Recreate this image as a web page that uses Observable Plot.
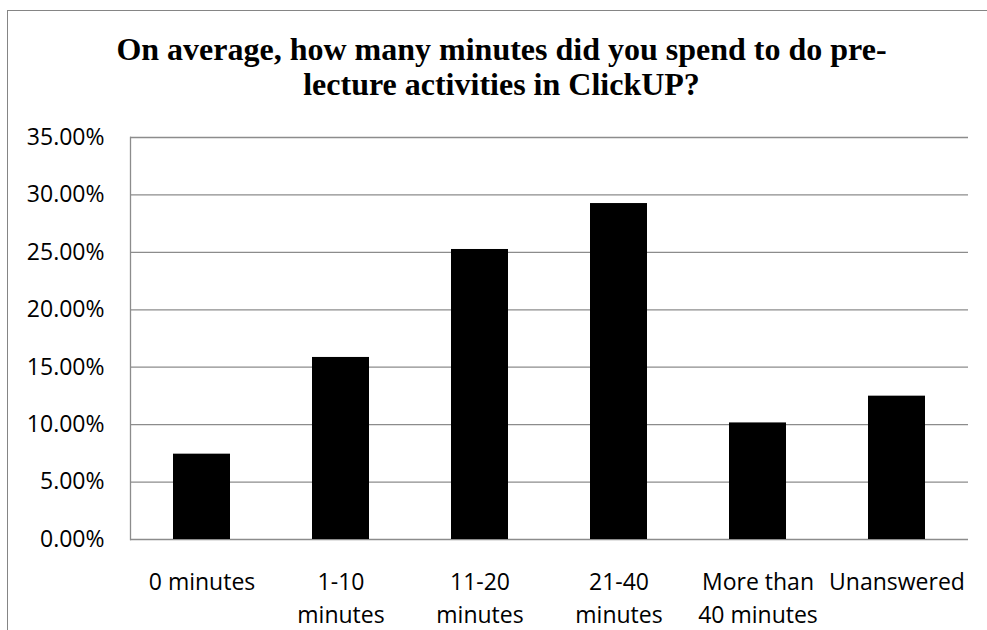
<!DOCTYPE html>
<html>
<head>
<meta charset="utf-8">
<script src="https://cdn.jsdelivr.net/npm/d3@7"></script>
<script src="https://cdn.jsdelivr.net/npm/@observablehq/plot@0.6"></script>
<style>
  html, body { margin: 0; padding: 0; background: #fff; }
  #wrap { position: relative; width: 987px; height: 630px; overflow: hidden; }
  #border { position: absolute; left: 7px; top: 10px; right: -5px; bottom: -5px;
            border-left: 1px solid #858585; border-top: 1px solid #858585; }
  #title { position: absolute; left: 0; top: 32px; width: 1003px; text-align: center;
           font-family: "Liberation Serif", "Times New Roman", serif; font-weight: bold;
           font-size: 32px; line-height: 35.3px; color: #000; }
  #chart { position: absolute; left: 0; top: 0; }
</style>
</head>
<body>
<div id="wrap">
  <div id="border"></div>
  <div id="chart"></div>
  <div id="title">On average, how many minutes did you spend to do pre-<br>lecture activities in ClickUP?</div>
</div>
<script>
const categories = ["0 minutes", "1-10 minutes", "11-20 minutes", "21-40 minutes", "More than 40 minutes", "Unanswered"];
const values = [0.0743, 0.1585, 0.2525, 0.2925, 0.1015, 0.1248];
const tickLabels = ["0 minutes", "1-10\nminutes", "11-20\nminutes", "21-40\nminutes", "More than\n40 minutes", "Unanswered"];
const yTicks = [0, 0.05, 0.10, 0.15, 0.20, 0.25, 0.30, 0.35];

const data = categories.map((c, i) => ({category: c, value: values[i]}));

const chart = Plot.plot({
  width: 987,
  height: 630,
  marginLeft: 130,
  marginRight: 19,
  marginTop: 137,
  marginBottom: 91,
  style: {fontFamily: "'Open Sans', sans-serif", fontSize: "23px", color: "#000", background: "transparent"},
  x: {domain: categories, paddingInner: 0.592, paddingOuter: 0.296, label: null},
  y: {domain: [0, 0.35], label: null},
  marks: [
    Plot.gridY(yTicks, {stroke: "#8c8c8c", strokeOpacity: 1, strokeWidth: 1.3}),
    Plot.frame({anchor: "left", stroke: "#8c8c8c", strokeWidth: 1.3}),
    Plot.barY(data, {x: "category", y: "value", fill: "#000"}),
    Plot.axisY(yTicks, {tickSize: 0, tickPadding: 26, tickFormat: d => (d * 100).toFixed(2) + "%", label: null}),
    Plot.axisX({tickSize: 0, tickPadding: 27, lineHeight: 1.435, tickFormat: d => tickLabels[categories.indexOf(d)], label: null})
  ]
});
document.getElementById("chart").appendChild(chart);
</script>
</body>
</html>
